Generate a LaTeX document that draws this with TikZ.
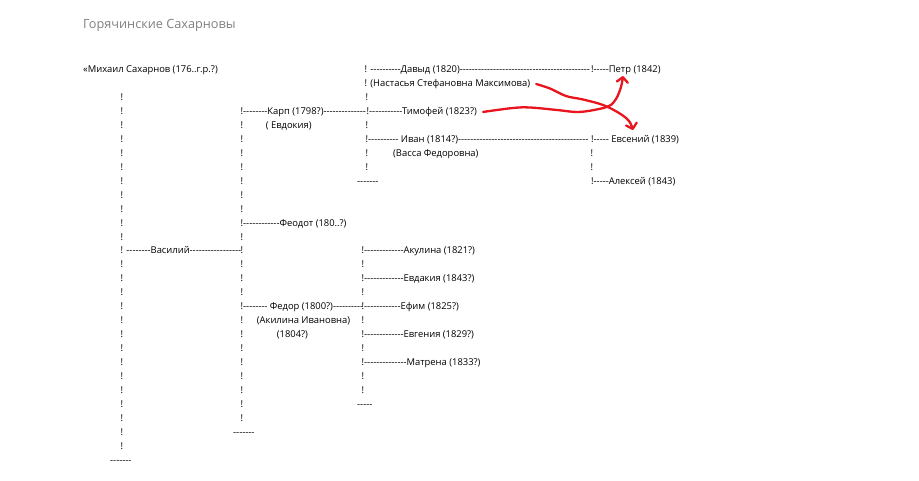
\documentclass[tikz,border=0pt]{standalone}
\usepackage{fontspec}
\setmainfont{Open Sans}[Ligatures=TeXOff]
\usetikzlibrary{arrows.meta}

\definecolor{titlegray}{RGB}{128,128,128}
\definecolor{penred}{RGB}{232,20,30}

\tikzset{
  txt/.style={anchor=base west, inner sep=0pt, font=\fontsize{9.4}{11}\selectfont},
  bang/.style={txt, anchor=base},
  redpen/.style={penred, line width=2.3pt, line cap=round, line join=round,
    -{Straight Barb[round, length=5pt, width=11pt]}}
}

\begin{document}
\begin{tikzpicture}[x=1pt, y=-1pt, declare function={rowy(\r)=72.5+13.96*(\r-1);}]
    \useasboundingbox (0,0) rectangle (919,481);

    \node[txt, anchor=base west, font=\fontsize{12.7}{15}\selectfont, titlegray] (title) at (83,29) {Горячинские Сахарновы};

    % first column
    \node[txt] (mikh) at (83,{rowy(1)}) {«Михаил Сахарнов (176..г.р.?)};
    \foreach \r in {3,...,13,15,16,...,28}
        \node[bang] (ca\r) at (122,{rowy(\r)}) {!};
    \node[txt] (vasiliy) at (120.5,{rowy(14)}) {! --------Василий-----------------};
    \node[txt] (enda) at (110,{rowy(29)}) {-------};

    % second column
    \foreach \r in {5,...,11,13,14,15,16,17,19,20,...,26}
        \node[bang] (cb\r) at (242,{rowy(\r)}) {!};
    \node[txt] (karp) at (240.5,{rowy(4)}) {!--------Карп (1798?)--------------};
    \node[txt] (evdokiya) at (265.7,{rowy(5)}) {( Евдокия)};
    \node[txt] (feodot) at (240.5,{rowy(12)}) {!------------Феодот (180..?)};
    \node[txt] (fedor) at (240.5,{rowy(18)}) {!-------- Федор (1800?)----------};
    \node[txt] (akilina) at (256.7,{rowy(19)}) {(Акилина Ивановна)};
    \node[txt] (born) at (276.7,{rowy(20)}) {(1804?)};
    \node[txt] (endb) at (233,{rowy(27)}) {-------};

    % Karp's children
    \foreach \r in {3,5,7,8}
        \node[bang] (cc\r) at (367,{rowy(\r)}) {!};
    \node[txt] (david) at (364.5,{rowy(1)}) {! ----------Давыд (1820)-------------------------------------------};
    \node[txt] (nast) at (364.5,{rowy(2)}) {! (Настасья Стефановна Максимова)};
    \node[txt] (timofey) at (366.5,{rowy(4)}) {!-----------Тимофей (1823?)};
    \node[txt] (ivan) at (365.5,{rowy(6)}) {!---------- Иван (1814?)-------------------------------------------};
    \node[txt] (vassa) at (393,{rowy(7)}) {(Васса Федоровна)};
    \node[txt] (endc) at (357,{rowy(9)}) {-------};

    % Ivan's children
    \foreach \r in {7,8}
        \node[bang] (cd\r) at (592,{rowy(\r)}) {!};
    \node[txt] (petr) at (591,{rowy(1)}) {!-----Петр (1842)};
    \node[txt] (evsen) at (591,{rowy(6)}) {!----- Евсений (1839)};
    \node[txt] (aleks) at (591,{rowy(9)}) {!-----Алексей (1843)};

    % Fedor's children
    \foreach \r in {15,17,19,21,23,24}
        \node[bang] (ce\r) at (363,{rowy(\r)}) {!};
    \node[txt] (akulina) at (361.5,{rowy(14)}) {!-------------Акулина (1821?)};
    \node[txt] (evdakiya) at (361.5,{rowy(16)}) {!-------------Евдакия (1843?)};
    \node[txt] (efim) at (361.5,{rowy(18)}) {!------------Ефим (1825?)};
    \node[txt] (evgeniya) at (361.5,{rowy(20)}) {!-------------Евгения (1829?)};
    \node[txt] (matrena) at (361.5,{rowy(22)}) {!--------------Матрена (1833?)};
    \node[txt] (ende) at (357,{rowy(25)}) {-----};

    % red marks
    \coordinate (tipe) at (633,130);
    \coordinate (tipp) at (623,76);
    \draw[redpen] plot[smooth, tension=0.6] coordinates {([xshift=6pt]nast.east) (550,88.5) (566,96) (583,99.5) (603,105) (619,113) (629,121) (tipe)};
    \draw[redpen] plot[smooth, tension=0.6] coordinates {([xshift=6pt]timofey.east) (513,108) (530,107.5) (557,110) (577,112) (594,110) (609,106) (616,99) (621,87) (tipp)};
\end{tikzpicture}
\end{document}
